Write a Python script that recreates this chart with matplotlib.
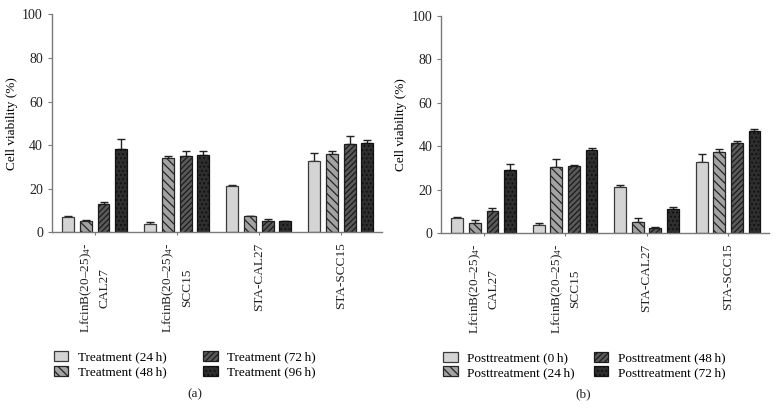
import numpy as np
import matplotlib
matplotlib.use('Agg')
from matplotlib import pyplot as plt

plt.rcParams['font.family'] = ['Liberation Serif', 'DejaVu Serif']
plt.rcParams['mathtext.fontset'] = 'custom'
plt.rcParams['mathtext.rm'] = 'Liberation Serif'
plt.rcParams['mathtext.it'] = 'Liberation Serif:italic'
plt.rcParams['hatch.linewidth'] = 0.9

groups = ['LfcinB(20–25)$_4$-\nCAL27', 'LfcinB(20–25)$_4$-\nSCC15',
          'STA-CAL27', 'STA-SCC15']

# panel (a): treatment time
labels_a = ['Treatment (24\u2009h)', 'Treatment (48\u2009h)',
            'Treatment (72\u2009h)', 'Treatment (96\u2009h)']
means_a = [[6.8, 3.8, 21.3, 32.8],
           [5.0, 34.0, 7.3, 36.0],
           [13.0, 34.8, 5.2, 40.5],
           [38.0, 35.5, 5.0, 40.8]]
errs_a = [[0.6, 0.8, 0.6, 3.5],
          [0.5, 1.0, 0.4, 1.3],
          [0.9, 2.3, 0.8, 3.8],
          [4.6, 2.0, 0.4, 1.5]]

# panel (b): posttreatment time
labels_b = ['Posttreatment (0\u2009h)', 'Posttreatment (24\u2009h)',
            'Posttreatment (48\u2009h)', 'Posttreatment (72\u2009h)']
means_b = [[6.8, 3.8, 21.3, 32.8],
           [4.6, 30.4, 5.1, 37.3],
           [10.2, 30.9, 2.4, 41.2],
           [29.2, 38.0, 11.3, 47.1]]
errs_b = [[0.6, 0.8, 0.6, 3.5],
          [1.3, 3.6, 1.8, 1.3],
          [1.4, 0.5, 0.3, 1.0],
          [2.4, 1.2, 0.7, 0.7]]

fills = ['#d4d4d4', '#a3a3a3', '#5a5a5a', '#2e2e2e']
hatches = ['', '\\\\\\\\', '//////', '....']
edges = ['#3a3a3a', '#262626', '#1c1c1c', '#111111']


def draw_panel(ax, means, errs, labels):
    x = np.arange(len(groups))
    step, width = 0.216, 0.146
    for i in range(len(means)):
        pos = x + (i - 1.5) * step
        ax.bar(pos, means[i], width, color=fills[i], edgecolor=edges[i],
               hatch=hatches[i], linewidth=0.9, label=labels[i], zorder=2)
        ax.errorbar(pos, means[i], yerr=[np.zeros(len(errs[i])), errs[i]],
                    fmt='none', ecolor='#222222', elinewidth=1.0,
                    capsize=3, capthick=1.0, zorder=1)
    ax.set_xlim(-0.52, 3.5)
    ax.set_ylim(0, 100)
    ax.set_yticks([0, 20, 40, 60, 80, 100])
    ax.set_xticks(x)
    ax.set_xticklabels(groups, rotation=90, ha='center', va='top',
                       multialignment='center', fontsize=9.5, linespacing=1.5)
    ax.set_ylabel('Cell viability (%)', fontsize=9.5, labelpad=3)
    for s in ['top', 'right']:
        ax.spines[s].set_visible(False)
    for s in ['left', 'bottom']:
        ax.spines[s].set_color('#7a7a7a')
        ax.spines[s].set_linewidth(1.0)
    ax.tick_params(axis='y', labelsize=10, length=3, color='#7a7a7a',
                   labelcolor='#222222')
    ax.tick_params(axis='x', length=2.5, color='#7a7a7a', labelcolor='#222222', pad=5)


fig = plt.figure(figsize=(7.78, 4.09), dpi=100)
ax_a = fig.add_axes([0.0668, 0.432, 0.424, 0.533])
ax_b = fig.add_axes([0.5672, 0.430, 0.421, 0.532])
draw_panel(ax_a, means_a, errs_a, labels_a)
draw_panel(ax_b, means_b, errs_b, labels_b)

for ax, lab, xl, colsp in [(ax_a, '(a)', 0.25, 2.8), (ax_b, '(b)', 0.75, 1.45)]:
    h, l = ax.get_legend_handles_labels()
    ax.legend(h, l, ncol=2, loc='upper left', bbox_to_anchor=(-0.01, -0.52),
              frameon=False, fontsize=9.5, handlelength=1.1, handleheight=0.8,
              handletextpad=0.7, columnspacing=colsp, labelspacing=0.15,
              borderaxespad=0)
    fig.text(xl, 0.035, lab, ha='center', va='center', fontsize=9.5, color='#222222')

fig.savefig('out.png', dpi=100)
